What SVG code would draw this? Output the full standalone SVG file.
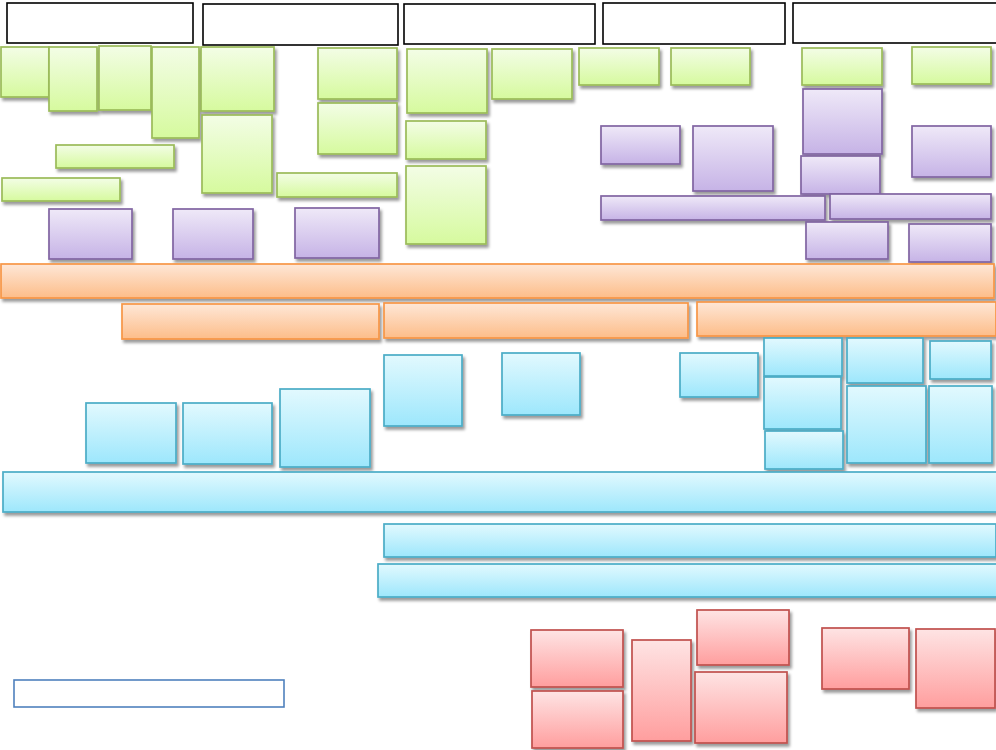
<svg xmlns="http://www.w3.org/2000/svg" width="996" height="750" viewBox="0 0 996 750">
<defs>
<linearGradient id="gG" x1="0" y1="0" x2="0" y2="1"><stop offset="0" stop-color="#f3fde6"/><stop offset="1" stop-color="#d6fa9e"/></linearGradient>
<linearGradient id="gP" x1="0" y1="0" x2="0" y2="1"><stop offset="0" stop-color="#efe9f8"/><stop offset="1" stop-color="#c6b3e6"/></linearGradient>
<linearGradient id="gO" x1="0" y1="0" x2="0" y2="1"><stop offset="0" stop-color="#fee7d7"/><stop offset="1" stop-color="#fdbd89"/></linearGradient>
<linearGradient id="gB" x1="0" y1="0" x2="0" y2="1"><stop offset="0" stop-color="#e2f9fe"/><stop offset="1" stop-color="#9de7fc"/></linearGradient>
<linearGradient id="gR" x1="0" y1="0" x2="0" y2="1"><stop offset="0" stop-color="#fee4e4"/><stop offset="1" stop-color="#ff9e9e"/></linearGradient>
<filter id="sh" x="-10%" y="-20%" width="130%" height="160%">
<feGaussianBlur in="SourceAlpha" stdDeviation="1.5"/>
<feOffset dx="1.5" dy="2.5" result="o"/>
<feComponentTransfer><feFuncA type="linear" slope="0.4"/></feComponentTransfer>
<feMerge><feMergeNode/><feMergeNode in="SourceGraphic"/></feMerge>
</filter>
</defs>
<style>
rect{stroke-width:1.7}
.h{fill:none;stroke:#000;stroke-width:1.6}
.g{fill:url(#gG);stroke:#9bbb59;filter:url(#sh)}
.p{fill:url(#gP);stroke:#8064a2;filter:url(#sh)}
.o{fill:url(#gO);stroke:#f79646;filter:url(#sh)}
.b{fill:url(#gB);stroke:#4bacc6;filter:url(#sh)}
.r{fill:url(#gR);stroke:#c0504d;filter:url(#sh)}
.l{fill:none;stroke:#4f81bd;stroke-width:1.6}
</style>
<rect width="996" height="750" fill="#fff"/>
<g id="headers">
<rect id="h1" class="h" x="7" y="3" width="186" height="40"/>
<rect id="h2" class="h" x="203" y="4" width="195" height="41"/>
<rect id="h3" class="h" x="404" y="4" width="191" height="40"/>
<rect id="h4" class="h" x="603" y="3" width="182" height="41"/>
<rect id="h5" class="h" x="793" y="3" width="210" height="40"/>
</g>
<g id="green">
<rect id="g1" class="g" x="1" y="47" width="48" height="50"/>
<rect id="g2" class="g" x="49" y="47" width="48" height="64"/>
<rect id="g3" class="g" x="99" y="46" width="52" height="64"/>
<rect id="g4" class="g" x="152" y="47" width="47" height="91"/>
<rect id="g5" class="g" x="201" y="47" width="73" height="64"/>
<rect id="g6" class="g" x="202" y="115" width="70" height="78"/>
<rect id="g7" class="g" x="318" y="48" width="79" height="51"/>
<rect id="g8" class="g" x="318" y="103" width="79" height="51"/>
<rect id="g9" class="g" x="56" y="145" width="118" height="23"/>
<rect id="g10" class="g" x="2" y="178" width="118" height="23"/>
<rect id="g11" class="g" x="277" y="173" width="120" height="24"/>
<rect id="g12" class="g" x="407" y="49" width="80" height="64"/>
<rect id="g13" class="g" x="492" y="49" width="80" height="50"/>
<rect id="g14" class="g" x="579" y="48" width="80" height="37"/>
<rect id="g15" class="g" x="671" y="48" width="79" height="37"/>
<rect id="g16" class="g" x="802" y="48" width="80" height="37"/>
<rect id="g17" class="g" x="912" y="47" width="79" height="37"/>
<rect id="g18" class="g" x="406" y="121" width="80" height="38"/>
<rect id="g19" class="g" x="406" y="166" width="80" height="78"/>
</g>
<g id="purple">
<rect id="p1" class="p" x="49" y="209" width="83" height="50"/>
<rect id="p2" class="p" x="173" y="209" width="80" height="50"/>
<rect id="p3" class="p" x="295" y="208" width="84" height="50"/>
<rect id="p4" class="p" x="601" y="126" width="79" height="38"/>
<rect id="p5" class="p" x="693" y="126" width="80" height="65"/>
<rect id="p6" class="p" x="803" y="89" width="79" height="65"/>
<rect id="p7" class="p" x="801" y="156" width="79" height="38"/>
<rect id="p8" class="p" x="912" y="126" width="79" height="51"/>
<rect id="p9" class="p" x="601" y="196" width="224" height="24"/>
<rect id="p10" class="p" x="830" y="194" width="161" height="25"/>
<rect id="p11" class="p" x="806" y="222" width="82" height="37"/>
<rect id="p12" class="p" x="909" y="224" width="82" height="38"/>
</g>
<g id="orange">
<rect id="o1" class="o" x="1" y="264" width="993" height="34"/>
<rect id="o2" class="o" x="122" y="304" width="257" height="35"/>
<rect id="o3" class="o" x="384" y="303" width="304" height="35"/>
<rect id="o4" class="o" x="697" y="302" width="299" height="34"/>
</g>
<g id="blue">
<rect id="b1" class="b" x="86" y="403" width="90" height="60"/>
<rect id="b2" class="b" x="183" y="403" width="89" height="61"/>
<rect id="b3" class="b" x="280" y="389" width="90" height="78"/>
<rect id="b4" class="b" x="384" y="355" width="78" height="71"/>
<rect id="b5" class="b" x="502" y="353" width="78" height="62"/>
<rect id="b6" class="b" x="680" y="353" width="78" height="44"/>
<rect id="b7" class="b" x="764" y="338" width="78" height="38"/>
<rect id="b8" class="b" x="764" y="377" width="77" height="52"/>
<rect id="b9" class="b" x="765" y="431" width="78" height="38"/>
<rect id="b10" class="b" x="847" y="338" width="76" height="45"/>
<rect id="b11" class="b" x="930" y="341" width="61" height="38"/>
<rect id="b12" class="b" x="847" y="386" width="79" height="77"/>
<rect id="b13" class="b" x="929" y="386" width="63" height="77"/>
<rect id="b14" class="b" x="3" y="472" width="1000" height="40"/>
<rect id="b15" class="b" x="384" y="524" width="612" height="33"/>
<rect id="b16" class="b" x="378" y="564" width="625" height="33"/>
</g>
<g id="red">
<rect id="r1" class="r" x="531" y="630" width="92" height="57"/>
<rect id="r2" class="r" x="532" y="691" width="91" height="57"/>
<rect id="r3" class="r" x="632" y="640" width="59" height="101"/>
<rect id="r4" class="r" x="697" y="610" width="92" height="55"/>
<rect id="r5" class="r" x="695" y="672" width="92" height="71"/>
<rect id="r6" class="r" x="822" y="628" width="87" height="61"/>
<rect id="r7" class="r" x="916" y="629" width="79" height="79"/>
</g>
<g id="legend">
<rect id="l1" class="l" x="14" y="680" width="270" height="27"/>
</g>
<g id="connectors"/>
</svg>
